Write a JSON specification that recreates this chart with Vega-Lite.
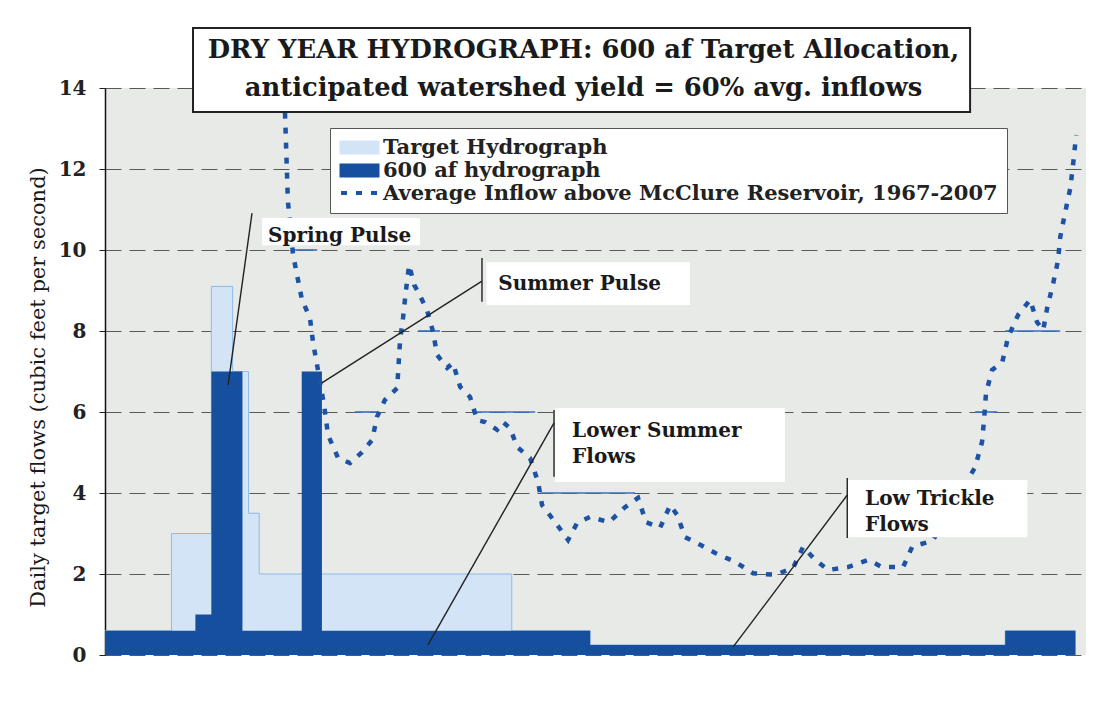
{
  "$schema": "https://vega.github.io/schema/vega-lite/v6.json",
  "width": 981,
  "height": 567,
  "autosize": {"type": "none"},
  "padding": {"left": 105, "top": 88, "right": 12, "bottom": 50},
  "background": "white",
  "config": {
    "view": {"fill": "#e7eae7", "stroke": null},
    "font": "DejaVu Serif",
    "legend": {
      "orient": "none", "cornerRadius": 0, "padding": 9,
      "labelFont": "DejaVu Serif", "labelFontWeight": "bold", "labelFontSize": 21, "labelColor": "#222",
      "labelLimit": 900, "labelOffset": 23, "symbolSize": 400, "rowPadding": 1
    }
  },
  "title": {
    "text": ["DRY YEAR HYDROGRAPH: 600 af Target Allocation,", "anticipated watershed yield = 60% avg. inflows"],
    "font": "DejaVu Serif",
    "fontSize": 25.8,
    "fontWeight": "bold",
    "color": "#1a1a1a",
    "lineHeight": 38,
    "anchor": "middle",
    "frame": "group",
    "dx": -12,
    "offset": -75,
    "zindex": 1
  },
  "datasets": {
    "target": [
      {"d": 0, "v": 0.6}, {"d": 25, "v": 3.0}, {"d": 40, "v": 9.1}, {"d": 48, "v": 7.0},
      {"d": 54, "v": 3.5}, {"d": 58, "v": 2.0}, {"d": 153, "v": 0.6}, {"d": 182.5, "v": 0.25},
      {"d": 338.6, "v": 0.6}, {"d": 365, "v": 0.6}
    ],
    "allocation": [
      {"d": 0, "v": 0.6}, {"d": 34, "v": 1.0}, {"d": 40, "v": 7.0}, {"d": 51.7, "v": 0.6},
      {"d": 74, "v": 7.0}, {"d": 81.6, "v": 0.6}, {"d": 182.5, "v": 0.25}, {"d": 338.6, "v": 0.6},
      {"d": 365, "v": 0.6}
    ],
    "inflow": [
      {"d": 66.9, "v": 14.5}, {"d": 67.7, "v": 13.4}, {"d": 68.2, "v": 12.4}, {"d": 68.8, "v": 11.2},
      {"d": 70.7, "v": 9.9}, {"d": 72.6, "v": 9.26}, {"d": 74.1, "v": 8.77}, {"d": 77.1, "v": 8.32},
      {"d": 78.3, "v": 7.7}, {"d": 80.1, "v": 7.04}, {"d": 82.4, "v": 6.17}, {"d": 83.9, "v": 5.43},
      {"d": 87.7, "v": 4.86}, {"d": 92.2, "v": 4.74}, {"d": 96.7, "v": 5.01}, {"d": 100.5, "v": 5.31},
      {"d": 102.3, "v": 5.88}, {"d": 105.3, "v": 6.3}, {"d": 109.9, "v": 6.59}, {"d": 111, "v": 7.78},
      {"d": 112.1, "v": 8.32}, {"d": 113.2, "v": 9.0}, {"d": 114.4, "v": 9.63}, {"d": 116.3, "v": 9.14},
      {"d": 117.8, "v": 8.96}, {"d": 121.1, "v": 8.52}, {"d": 123.4, "v": 7.98}, {"d": 124.9, "v": 7.41},
      {"d": 128.7, "v": 7.09}, {"d": 130.9, "v": 7.21}, {"d": 133.6, "v": 6.62}, {"d": 137.3, "v": 6.37},
      {"d": 140, "v": 5.8}, {"d": 143, "v": 5.75}, {"d": 147.5, "v": 5.56}, {"d": 149.7, "v": 5.75},
      {"d": 152.4, "v": 5.6}, {"d": 155, "v": 5.14}, {"d": 159.9, "v": 4.86}, {"d": 162.9, "v": 4.27},
      {"d": 164.4, "v": 3.7}, {"d": 169.3, "v": 3.28}, {"d": 174.2, "v": 2.84}, {"d": 177.6, "v": 3.26},
      {"d": 182.5, "v": 3.41}, {"d": 189.6, "v": 3.28}, {"d": 195.6, "v": 3.65}, {"d": 200.5, "v": 3.88},
      {"d": 203.5, "v": 3.28}, {"d": 208.8, "v": 3.14}, {"d": 212.6, "v": 3.7}, {"d": 215.2, "v": 3.46},
      {"d": 218.2, "v": 2.91}, {"d": 223.9, "v": 2.72}, {"d": 229.5, "v": 2.52}, {"d": 237, "v": 2.3},
      {"d": 243.8, "v": 2.02}, {"d": 252.1, "v": 1.98}, {"d": 258.8, "v": 2.15}, {"d": 262.6, "v": 2.67},
      {"d": 267.1, "v": 2.35}, {"d": 272, "v": 2.1}, {"d": 279.5, "v": 2.17}, {"d": 287.1, "v": 2.35},
      {"d": 292.3, "v": 2.17}, {"d": 300.2, "v": 2.17}, {"d": 303.6, "v": 2.67}, {"d": 308.5, "v": 2.77},
      {"d": 311.5, "v": 2.84}, {"d": 327.3, "v": 4.64}, {"d": 329.9, "v": 5.26}, {"d": 330.7, "v": 5.85},
      {"d": 331.4, "v": 6.47}, {"d": 333.7, "v": 7.04}, {"d": 337.5, "v": 7.23}, {"d": 339.7, "v": 7.85},
      {"d": 343.5, "v": 8.4}, {"d": 348, "v": 8.77}, {"d": 350.6, "v": 8.22}, {"d": 352.9, "v": 8.02},
      {"d": 354.4, "v": 8.57}, {"d": 356.7, "v": 9.19}, {"d": 358.5, "v": 9.75}, {"d": 359.3, "v": 10.32},
      {"d": 361.2, "v": 10.94}, {"d": 363.1, "v": 11.53}, {"d": 364.2, "v": 12.15}, {"d": 365.3, "v": 12.84}
    ],
    "segments": [
      {"d": 70.7, "d2": 79.8, "v": 10}, {"d": 94, "d2": 102.3, "v": 6}, {"d": 117.8, "d2": 126, "v": 8},
      {"d": 140, "d2": 161.8, "v": 6}, {"d": 163.7, "d2": 199.4, "v": 4}, {"d": 327.3, "d2": 335.6, "v": 6},
      {"d": 338.6, "d2": 359.3, "v": 8}
    ],
    "boxes": [
      {"d": 59.1, "d2": 118.5, "v": 10.79, "v2": 10.12},
      {"d": 143.5, "d2": 220, "v": 9.7, "v2": 8.64},
      {"d": 169.3, "d2": 255.8, "v": 6.1, "v2": 4.27},
      {"d": 279.5, "d2": 346.9, "v": 4.32, "v2": 2.91}
    ],
    "leaders": [
      {"d": 55.3, "v": 10.91, "d2": 46.3, "v2": 6.67},
      {"d": 141.8, "v": 9.8, "d2": 141.8, "v2": 8.72},
      {"d": 141.8, "v": 9.23, "d2": 81.6, "v2": 6.72},
      {"d": 168.9, "v": 6.05, "d2": 168.9, "v2": 4.4},
      {"d": 168.9, "v": 5.73, "d2": 121.5, "v2": 0.25},
      {"d": 279.2, "v": 4.37, "d2": 279.2, "v2": 2.89},
      {"d": 279.2, "v": 3.95, "d2": 236.3, "v2": 0.2}
    ],
    "labels": [
      {"d": 61.3, "v": 10.2, "label": "Spring Pulse"},
      {"d": 147.9, "v": 9.01, "label": "Summer Pulse"},
      {"d": 175.7, "v": 5.38, "label": "Lower Summer\nFlows"},
      {"d": 285.9, "v": 3.7, "label": "Low Trickle\nFlows"}
    ],
    "titlebox": [
      {"d": 33.1, "d2": 325.4, "v": 15.48, "v2": 13.41}
    ]
  },
  "layer": [
    {
      "data": {"name": "target"},
      "mark": {"type": "area", "interpolate": "step-after", "stroke": "#8dbbe8", "strokeWidth": 1, "clip": true},
      "encoding": {
        "x": {"field": "d", "type": "quantitative", "scale": {"domain": [0, 369], "nice": false, "zero": false}, "axis": null},
        "y": {
          "field": "v", "type": "quantitative", "scale": {"domain": [0, 14], "nice": false},
          "axis": {
            "values": [0, 2, 4, 6, 8, 10, 12, 14],
            "title": "Daily target flows (cubic feet per second)",
            "titleFont": "DejaVu Serif", "titleFontSize": 21, "titleFontWeight": "normal", "titleColor": "#1a1a1a",
            "titleX": -67, "titleY": 299, "titleAngle": -90, "titleAlign": "center", "titleBaseline": "middle",
            "labelFont": "DejaVu Serif", "labelFontSize": 20, "labelFontWeight": "bold", "labelColor": "#222",
            "labelPadding": 13, "tickSize": 6, "tickColor": "#222", "domainColor": "#111", "domainWidth": 1.5,
            "grid": true, "gridColor": "#5a5a5a", "gridDash": [16, 8], "gridWidth": 1.2
          }
        },
        "fill": {
          "datum": "Target Hydrograph",
          "scale": {
            "domain": ["Target Hydrograph", "600 af hydrograph", "Average Inflow above McClure Reservoir, 1967-2007"],
            "range": ["#d3e4f6", "#174f9f", "transparent"]
          },
          "legend": {
            "legendX": 225, "legendY": 40, "title": null,
            "fillColor": "white", "strokeColor": "#555",
            "symbolType": "M-1,-0.7H3V0.7H-1Z", "symbolStrokeWidth": 0
          }
        }
      }
    },
    {
      "data": {"name": "allocation"},
      "mark": {"type": "area", "interpolate": "step-after", "clip": true},
      "encoding": {
        "x": {"field": "d", "type": "quantitative", "axis": null},
        "y": {"field": "v", "type": "quantitative"},
        "fill": {"datum": "600 af hydrograph"}
      }
    },
    {
      "data": {"name": "segments"},
      "mark": {"type": "rule", "color": "#3a6fc0", "strokeWidth": 1.6},
      "encoding": {
        "x": {"field": "d", "type": "quantitative", "axis": null},
        "x2": {"field": "d2"},
        "y": {"field": "v", "type": "quantitative"}
      }
    },
    {
      "data": {"name": "inflow"},
      "mark": {"type": "line", "strokeWidth": 4.5, "strokeDash": [6, 9], "strokeCap": "butt", "clip": true},
      "encoding": {
        "x": {"field": "d", "type": "quantitative", "axis": null},
        "y": {"field": "v", "type": "quantitative"},
        "stroke": {
          "datum": "Average Inflow above McClure Reservoir, 1967-2007",
          "scale": {"domain": ["Average Inflow above McClure Reservoir, 1967-2007"], "range": ["#1d52a5"]},
          "legend": {
            "legendX": 225, "legendY": 84, "title": null, "labelExpr": "''",
            "symbolType": "M-1,0H3", "symbolStrokeWidth": 4, "symbolDash": [6, 9], "symbolFillColor": "transparent"
          }
        }
      }
    },
    {
      "data": {"name": "boxes"},
      "mark": {"type": "rect", "fill": "white", "stroke": null},
      "encoding": {
        "x": {"field": "d", "type": "quantitative", "axis": null},
        "x2": {"field": "d2"},
        "y": {"field": "v", "type": "quantitative"},
        "y2": {"field": "v2"}
      }
    },
    {
      "data": {"name": "leaders"},
      "mark": {"type": "rule", "color": "#222", "strokeWidth": 1.4},
      "encoding": {
        "x": {"field": "d", "type": "quantitative", "axis": null},
        "x2": {"field": "d2"},
        "y": {"field": "v", "type": "quantitative"},
        "y2": {"field": "v2"}
      }
    },
    {
      "data": {"name": "labels"},
      "mark": {"type": "text", "align": "left", "baseline": "alphabetic", "font": "DejaVu Serif", "fontWeight": "bold", "fontSize": 20, "color": "#1a1a1a", "lineBreak": "\n", "lineHeight": 26},
      "encoding": {
        "x": {"field": "d", "type": "quantitative", "axis": null},
        "y": {"field": "v", "type": "quantitative"},
        "text": {"field": "label"}
      }
    },
    {
      "data": {"name": "titlebox"},
      "mark": {"type": "rect", "fill": "white", "stroke": "#222", "strokeWidth": 2},
      "encoding": {
        "x": {"field": "d", "type": "quantitative", "axis": null},
        "x2": {"field": "d2"},
        "y": {"field": "v", "type": "quantitative"},
        "y2": {"field": "v2"}
      }
    }
  ]
}
